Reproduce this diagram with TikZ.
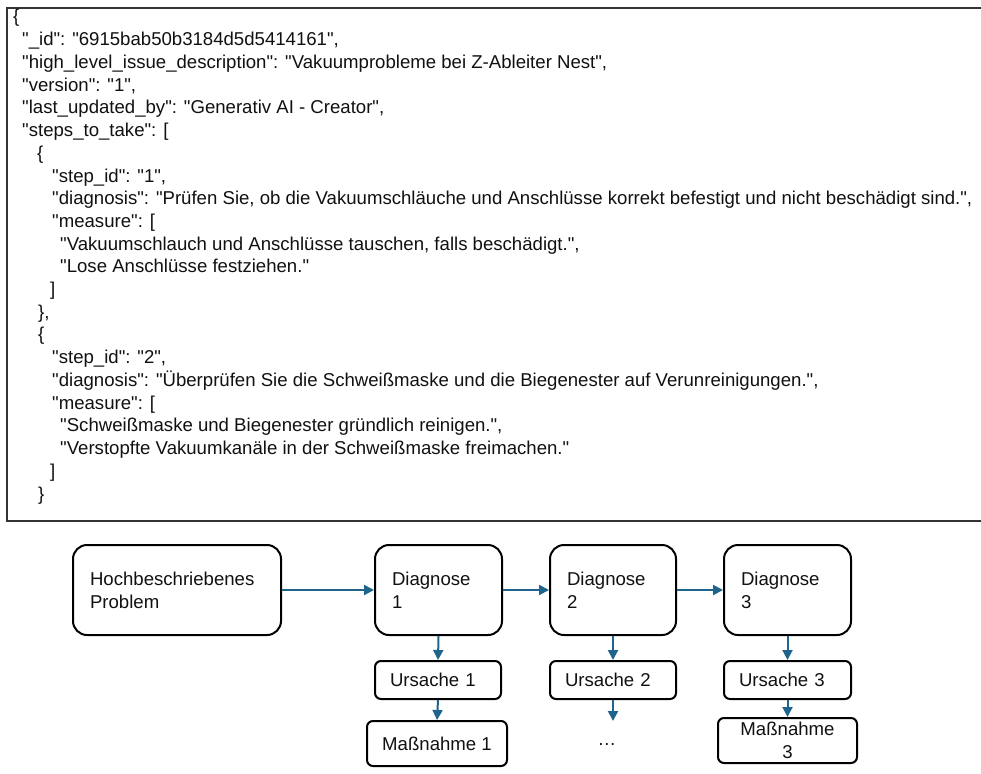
\documentclass[tikz,border=0pt]{standalone}
\usepackage{fontspec}
\setmainfont[Ligatures=TeXOff]{Liberation Sans}
\usetikzlibrary{arrows.meta}
\definecolor{arr}{RGB}{30,100,140}
\definecolor{txt}{RGB}{17,17,17}
\newcommand{\jfnt}{\fontsize{18.6}{23}\selectfont}
\begin{document}
\begin{tikzpicture}[x=1pt,y=-1pt,
  jl/.style={anchor=base west, inner sep=0pt, font=\jfnt, text=txt},
  bigbox/.style={draw=black, line width=2pt, rounded corners=14pt, minimum height=90pt,
     align=left, inner xsep=17pt, font=\jfnt, text=txt},
  smallbox/.style={draw=black, line width=2pt, rounded corners=6pt, minimum height=38pt,
     font=\jfnt, text=txt},
  arrw/.style={draw=arr, line width=2pt, -{Triangle[length=10pt,width=10pt]}}]
\useasboundingbox (0,0) rectangle (981,773);
\fill[white] (0,0) rectangle (981,773);
\begin{scope}
\clip (0,0) rectangle (981,773);
\draw[line width=1.6pt, draw=black!80] (7,8) rectangle (995,521);
\end{scope}
% JSON lines
\node[jl] (j1)  at (13,23)    {\{};
\node[jl] (j2)  at (22,45.7)  {"\_id": "6915bab50b3184d5d5414161",};
\node[jl] (j3)  at (22,68.4)  {"high\_level\_issue\_description": "Vakuumprobleme bei Z-Ableiter Nest",};
\node[jl] (j4)  at (22,91.1)  {"version": "1",};
\node[jl] (j5)  at (22,113.8) {"last\_updated\_by": "Generativ AI - Creator",};
\node[jl] (j6)  at (22,136.6) {"steps\_to\_take": [};
\node[jl] (j7)  at (37,159.3) {\{};
\node[jl] (j8)  at (52,182)   {"step\_id": "1",};
\node[jl] (j9)  at (52,204.7) {"diagnosis": "Prüfen Sie, ob die Vakuumschläuche und Anschlüsse korrekt befestigt und nicht beschädigt sind.",};
\node[jl] (j10) at (52,227.4) {"measure": [};
\node[jl] (j11) at (60,250.1) {"Vakuumschlauch und Anschlüsse tauschen, falls beschädigt.",};
\node[jl] (j12) at (60,272.8) {"Lose Anschlüsse festziehen."};
\node[jl] (j13) at (50,295.5) {]};
\node[jl] (j14) at (38,318.2) {\},};
\node[jl] (j15) at (38,340.9) {\{};
\node[jl] (j16) at (52,363.6) {"step\_id": "2",};
\node[jl] (j17) at (52,386.4) {"diagnosis": "Überprüfen Sie die Schweißmaske und die Biegenester auf Verunreinigungen.",};
\node[jl] (j18) at (52,409.1) {"measure": [};
\node[jl] (j19) at (60,431.8) {"Schweißmaske und Biegenester gründlich reinigen.",};
\node[jl] (j20) at (60,454.5) {"Verstopfte Vakuumkanäle in der Schweißmaske freimachen."};
\node[jl] (j21) at (50,477.2) {]};
\node[jl] (j22) at (38,500)   {\}};
% flowchart
\node[bigbox, text width=174pt] (hp) at (177,590) {Hochbeschriebenes\\Problem};
\node[bigbox, text width=93pt] (d1) at (438.5,590) {Diagnose\\1};
\node[bigbox, text width=92pt] (d2) at (613,590) {Diagnose\\2};
\node[bigbox, text width=93pt] (d3) at (787.5,590) {Diagnose\\3};
\node[smallbox, minimum width=126pt, text width=96pt, inner xsep=15pt, align=left] (u1) at (438,680) {Ursache 1};
\node[smallbox, minimum width=126pt, text width=96pt, inner xsep=15pt, align=left] (u2) at (613,680) {Ursache 2};
\node[smallbox, minimum width=127pt, text width=97pt, inner xsep=15pt, align=left] (u3) at (787.5,680) {Ursache 3};
\node[smallbox, minimum width=140pt, minimum height=45pt, align=center] (m1) at (437,743.5) {Maßnahme 1};
\node[smallbox, minimum width=139pt, minimum height=45pt, align=center, inner ysep=1pt] (m3) at (787.5,740.5) {Maßnahme\\3};
\node[font=\jfnt, text=txt, inner sep=0pt] (dots) at (607,744) {…};
\coordinate (u2e) at (613,721);
\draw[arrw] (hp.east) -- (d1.west);
\draw[arrw] (d1.east) -- (d2.west);
\draw[arrw] (d2.east) -- (d3.west);
\draw[arrw] (d1.south) -- (u1.north);
\draw[arrw] (d2.south) -- (u2.north);
\draw[arrw] (d3.south) -- (u3.north);
\draw[arrw] (u1.south) -- (m1.north);
\draw[arrw] (u2.south) -- (u2e);
\draw[arrw] (u3.south) -- (m3.north);
\end{tikzpicture}
\end{document}
